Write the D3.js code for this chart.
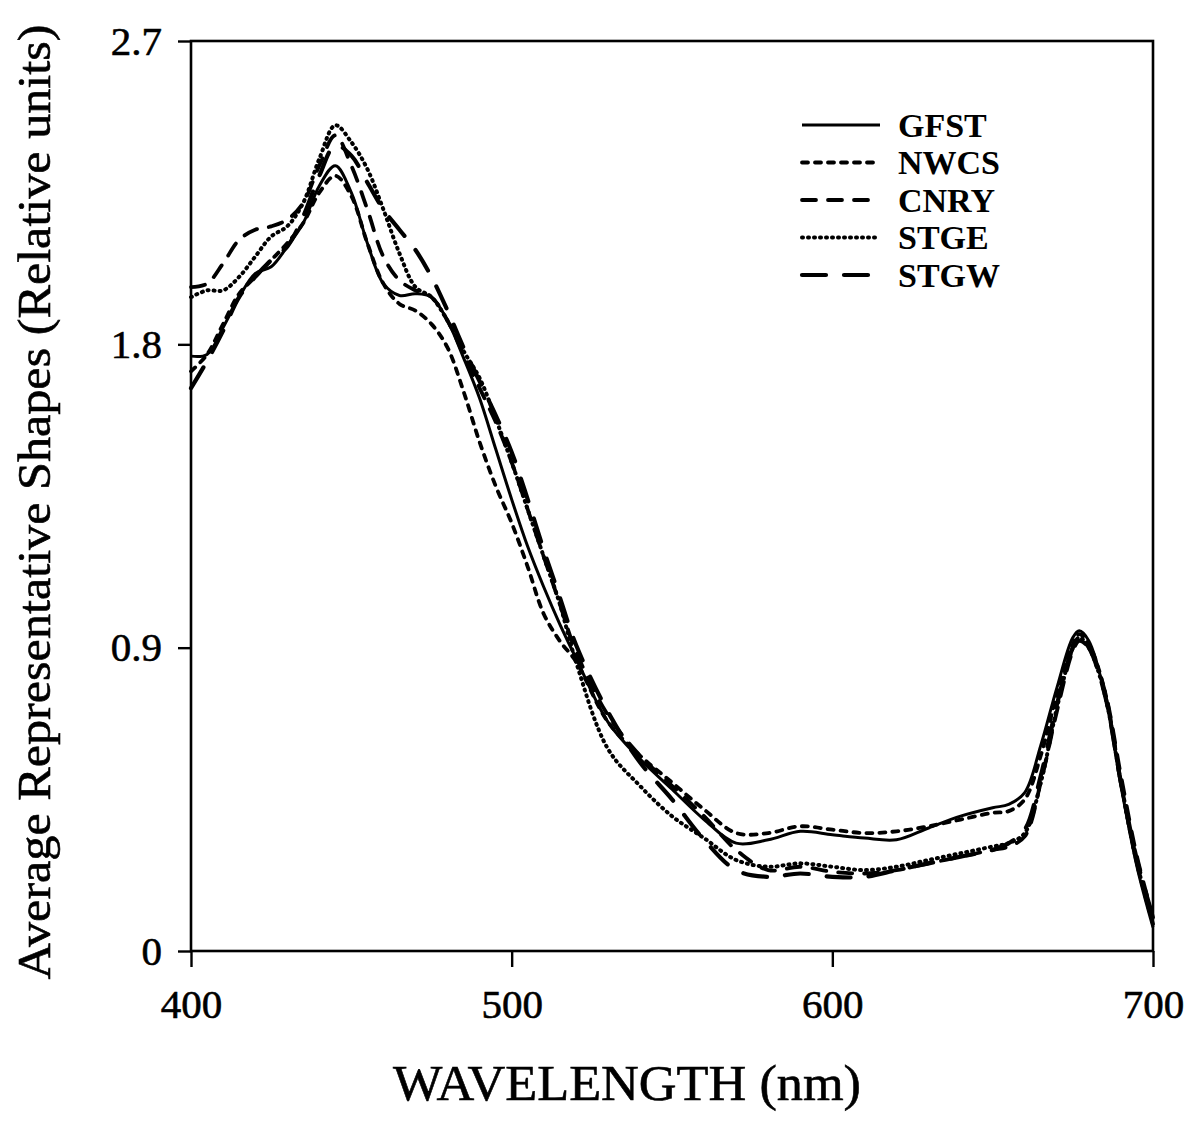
<!DOCTYPE html>
<html>
<head>
<meta charset="utf-8">
<script src="https://cdn.jsdelivr.net/npm/d3@7"></script>
<style>
  body { margin: 0; background: #fff; }
  svg { display: block; font-family: "Liberation Serif", "Times New Roman", serif; }
</style>
</head>
<body>
<svg width="1188" height="1123"></svg>
<script>
"use strict";

// wavelengths (nm) shared by every series
var wavelengths = [400,405,410,415,420,425,430,435,440,445,450,455,460,465,470,475,480,485,490,495,
                   500,505,510,515,520,530,540,550,560,570,580,590,600,610,620,630,640,650,655,660,
                   665,670,675,677,680,685,690,695,700];

var gfst = [1.765,1.77,1.85,1.94,2.01,2.03,2.09,2.16,2.27,2.33,2.25,2.10,1.98,1.945,1.95,1.94,1.87,1.76,1.64,1.49,
            1.34,1.20,1.08,0.97,0.87,0.68,0.57,0.48,0.39,0.32,0.33,0.355,0.345,0.335,0.33,0.365,0.40,0.425,0.435,0.47,
            0.61,0.78,0.93,0.95,0.92,0.76,0.49,0.25,0.07];
var nwcs = [1.72,1.77,1.86,1.95,2.00,2.05,2.10,2.16,2.25,2.30,2.24,2.10,1.98,1.92,1.90,1.86,1.79,1.66,1.51,1.38,
            1.27,1.14,1.00,0.92,0.86,0.68,0.58,0.50,0.42,0.35,0.35,0.37,0.36,0.35,0.355,0.37,0.39,0.41,0.415,0.45,
            0.58,0.76,0.91,0.94,0.91,0.77,0.50,0.26,0.08];
var cnry = [1.97,1.98,2.04,2.11,2.14,2.15,2.17,2.22,2.33,2.42,2.33,2.20,2.06,1.99,1.96,1.94,1.87,1.77,1.67,1.57,
            1.45,1.31,1.17,1.03,0.89,0.70,0.58,0.49,0.40,0.30,0.24,0.25,0.235,0.23,0.24,0.26,0.28,0.30,0.31,0.34,
            0.50,0.71,0.89,0.92,0.90,0.77,0.52,0.28,0.10];
var stge = [1.94,1.96,1.96,2.00,2.06,2.12,2.15,2.22,2.35,2.45,2.40,2.32,2.20,2.07,1.97,1.94,1.87,1.78,1.70,1.58,
            1.45,1.31,1.17,1.03,0.86,0.60,0.49,0.40,0.335,0.27,0.25,0.26,0.25,0.24,0.25,0.27,0.29,0.31,0.32,0.35,
            0.50,0.72,0.90,0.93,0.90,0.76,0.50,0.26,0.09];
var stgw = [1.67,1.75,1.84,1.94,2.00,2.05,2.09,2.18,2.30,2.39,2.36,2.28,2.20,2.14,2.08,2.00,1.90,1.79,1.69,1.59,
            1.48,1.34,1.19,1.05,0.91,0.71,0.56,0.45,0.33,0.24,0.22,0.23,0.22,0.22,0.24,0.26,0.28,0.30,0.32,0.36,
            0.52,0.73,0.90,0.93,0.90,0.76,0.50,0.27,0.10];

var seriesNames = ["GFST", "NWCS", "CNRY", "STGE", "STGW"];
var seriesValues = [gfst, nwcs, cnry, stge, stgw];
var xTicks = [400, 500, 600, 700];
var yTicks = [0, 0.9, 1.8, 2.7];

// line look per series
var styles = {
    GFST: {dash: null, w: 3},
    NWCS: {dash: "6,7", w: 3.8},
    CNRY: {dash: "14,12", w: 3.8},
    STGE: {dash: "1,5", w: 4},
    STGW: {dash: "24,18", w: 4.2}
};

var svg = d3.select("svg");
var margin = {left: 191, top: 41, right: 35, bottom: 172};
var width = 1188 - margin.left - margin.right;
var height = 1123 - margin.top - margin.bottom;

var x = d3.scaleLinear().domain([400, 700]).range([0, width]);
var y = d3.scaleLinear().domain([0, 2.7]).range([height, 0]);

var g = svg.append("g").attr("transform", "translate(" + margin.left + "," + margin.top + ")");

// frame
g.append("rect")
    .attr("width", width).attr("height", height)
    .attr("fill", "none").attr("stroke", "#000").attr("stroke-width", 2.6);

var xAxis = g.append("g")
    .attr("transform", "translate(0," + height + ")")
    .call(d3.axisBottom(x).tickValues(xTicks).tickSize(16).tickSizeOuter(0).tickPadding(22));
var yAxis = g.append("g")
    .call(d3.axisLeft(y).tickValues(yTicks).tickSize(13).tickSizeOuter(0).tickPadding(16)
        .tickFormat(function(d) { return d === 0 ? "0" : d3.format(".1f")(d); }));

[xAxis, yAxis].forEach(function(a) {
    a.select(".domain").remove();
    a.selectAll("line").attr("stroke", "#000").attr("stroke-width", 2.4);
    a.selectAll("text").attr("fill", "#000")
        .style("font-family", "'Liberation Serif', serif").style("font-size", "41px")
        .style("stroke", "#000").style("stroke-width", 0.6);
});
xAxis.selectAll("text").attr("dy", "0.71em");

var line = d3.line()
    .x(function(d) { return x(d[0]); })
    .y(function(d) { return y(d[1]); })
    .curve(d3.curveCatmullRom.alpha(0.5));

seriesNames.forEach(function(name, i) {
    var pts = wavelengths.map(function(w, j) { return [w, seriesValues[i][j]]; });
    var st = styles[name];
    g.append("path")
        .datum(pts)
        .attr("d", line)
        .attr("fill", "none")
        .attr("stroke", "#000")
        .attr("stroke-width", st.w)
        .attr("stroke-linecap", st.dash ? "round" : "butt")
        .attr("stroke-linejoin", "round")
        .attr("stroke-dasharray", st.dash);
});

// legend
var legend = svg.append("g").attr("transform", "translate(802,125)");
seriesNames.forEach(function(name, i) {
    var st = styles[name];
    var row = legend.append("g").attr("transform", "translate(0," + (i * 37.5) + ")");
    row.append("line")
        .attr("x1", 0).attr("x2", 78).attr("y1", 0).attr("y2", 0)
        .attr("stroke", "#000").attr("stroke-width", st.w)
        .attr("stroke-linecap", st.dash ? "round" : "butt")
        .attr("stroke-dasharray", st.dash);
    row.append("text")
        .attr("x", 96).attr("y", 0).attr("dy", "0.35em")
        .style("font-size", "34px").style("font-weight", "bold")
        .text(name);
});

// axis titles
svg.append("text")
    .attr("x", 627).attr("y", 1100)
    .attr("text-anchor", "middle")
    .attr("textLength", 468)
    .attr("lengthAdjust", "spacingAndGlyphs")
    .style("font-size", "51px")
    .style("stroke", "#000").style("stroke-width", 0.6)
    .text("WAVELENGTH (nm)");

svg.append("text")
    .attr("transform", "translate(50,502) rotate(-90)")
    .attr("text-anchor", "middle")
    .attr("textLength", 955)
    .attr("lengthAdjust", "spacingAndGlyphs")
    .style("font-size", "46px")
    .style("stroke", "#000").style("stroke-width", 0.6)
    .text("Average Representative Shapes (Relative units)");
</script>
</body>
</html>
